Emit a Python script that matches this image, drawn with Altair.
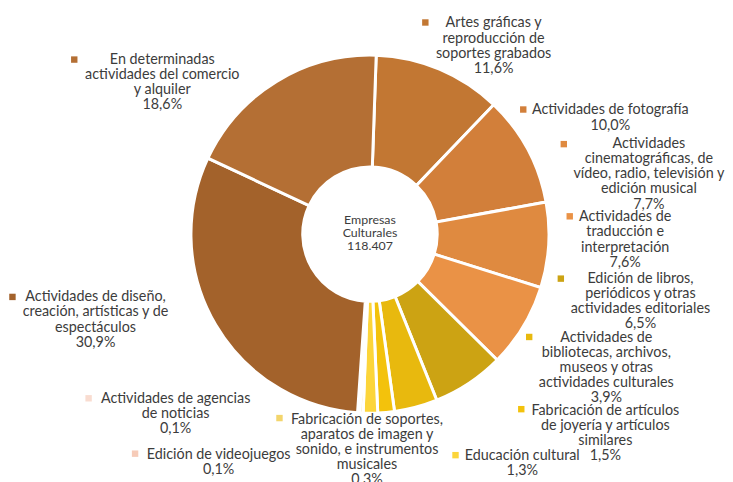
import math
import altair as alt
import pandas as pd

# ---------------- data ----------------
categories = [
    "Artes gráficas y reproducción de soportes grabados",
    "Actividades de fotografía",
    "Actividades cinematográficas, de vídeo, radio, televisión y edición musical",
    "Actividades de traducción e interpretación",
    "Edición de libros, periódicos y otras actividades editoriales",
    "Actividades de bibliotecas, archivos, museos y otras actividades culturales",
    "Fabricación de artículos de joyería y artículos similares",
    "Educación cultural",
    "Fabricación de soportes, aparatos de imagen y sonido, e instrumentos musicales",
    "Edición de videojuegos",
    "Actividades de agencias de noticias",
    "Actividades de diseño, creación, artísticas y de espectáculos",
    "En determinadas actividades del comercio y alquiler",
]
shares = [11.6, 10.0, 7.7, 7.6, 6.5, 3.9, 1.5, 1.3, 0.3, 0.1, 0.1, 30.9, 18.6]
pct_text = ["11,6%", "10,0%", "7,7%", "7,6%", "6,5%", "3,9%", "1,5%", "1,3%",
            "0,3%", "0,1%", "0,1%", "30,9%", "18,6%"]
wrapped = [
    "Artes gráficas y\nreproducción de\nsoportes grabados",
    "Actividades de fotografía",
    "Actividades\ncinematográficas, de\nvídeo, radio, televisión y\nedición musical",
    "Actividades de\ntraducción e\ninterpretación",
    "Edición de libros,\nperiódicos y otras\nactividades editoriales",
    "Actividades de\nbibliotecas, archivos,\nmuseos y otras\nactividades culturales",
    "Fabricación de artículos\nde joyería y artículos\nsimilares",
    "Educación cultural",
    "Fabricación de soportes,\naparatos de imagen y\nsonido, e instrumentos\nmusicales",
    "Edición de videojuegos",
    "Actividades de agencias\nde noticias",
    "Actividades de diseño,\ncreación, artísticas y de\nespectáculos",
    "En determinadas\nactividades del comercio\ny alquiler",
]
colors = ["#c27733", "#d27f3a", "#df8a40", "#ea9246", "#cca313", "#e8b90e",
          "#f3c20c", "#fcd53a", "#f3d56c", "#f6cbb8", "#f9dcd0", "#a3622b", "#b46f34"]
center_text = "Empresas\nCulturales\n118.407"

# ---------------- layout (pixels in the view) ----------------
W, H = 725, 474
CX, CY = 366, 226
R_OUT, R_IN = 181, 68
START = math.radians(2)
label_x = [491, 609, 648, 624, 639.5, 605, 604, 520, 363, 213, 169.5, 88.5, 156]
label_y = [17, 105, 139, 213, 275, 335, 409, 454, 417.5, 453, 397, 294, 54]
marker_x = [422, 521, 562, 568, 559, 527, 519, 452.5, 274.5, 128.5, 81.5, 4.5, 67]
marker_y = [12, 100, 135, 208, 271, 330, 403, 449.5, 412, 448, 392, 289.5, 49.5]

df = pd.DataFrame({
    "categoria": categories,
    "porcentaje": shares,
    "orden": list(range(len(categories))),
    "color": colors,
    "etiqueta": [w + "\n" + p for w, p in zip(wrapped, pct_text)],
    "lx": label_x, "ly": label_y, "mx": marker_x, "my": marker_y,
})

base = alt.Chart(df)

arcs = base.mark_arc(outerRadius=R_OUT, innerRadius=R_IN, stroke="white", strokeWidth=3).encode(
    theta=alt.Theta("porcentaje:Q", stack=True,
                    scale=alt.Scale(range=[START, START + 2 * math.pi])),
    color=alt.Color("color:N", scale=None),
    order=alt.Order("orden:Q"),
    x=alt.value(CX),
    y=alt.value(CY),
)

labels = base.mark_text(
    font="Lato", fontSize=14.5, color="#3c3c3c", align="center",
    baseline="alphabetic", lineBreak="\n", lineHeight=15.3,
).encode(
    x=alt.X("lx:Q", scale=None),
    y=alt.Y("ly:Q", scale=None),
    text="etiqueta:N",
)

markers = base.mark_square(size=42, opacity=1, filled=True).encode(
    x=alt.X("mx:Q", scale=None),
    y=alt.Y("my:Q", scale=None),
    color=alt.Color("color:N", scale=None),
)

center = alt.Chart(pd.DataFrame({"t": [center_text]})).mark_text(
    font="Lato", fontSize=12.5, color="#3c3c3c", align="center",
    baseline="alphabetic", lineBreak="\n", lineHeight=13,
).encode(
    x=alt.value(CX), y=alt.value(216), text="t:N",
)

chart = alt.layer(arcs, markers, labels, center).properties(
    width=W, height=H, padding=0, autosize="none"
).configure_view(stroke=None)

chart.save("out.html", embed_options={"renderer": "svg", "actions": False})
